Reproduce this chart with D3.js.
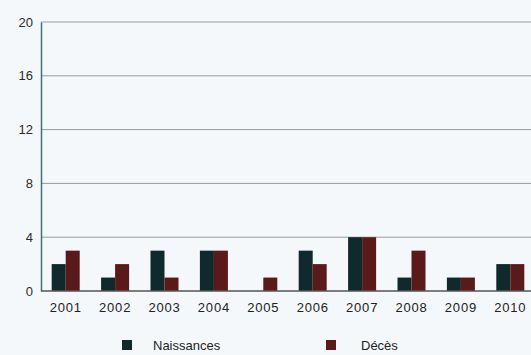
<!DOCTYPE html>
<html>
<head>
<meta charset="utf-8">
<script src="https://cdn.jsdelivr.net/npm/d3@7"></script>
<style>
  body { margin: 0; background: #f5f8fb; }
  svg { display: block; font-family: "Liberation Sans", Arial, sans-serif; }
</style>
</head>
<body>
<div id="chart"></div>
<script>
// data
const years = ["2001", "2002", "2003", "2004", "2005", "2006", "2007", "2008", "2009", "2010"] ;
const naissances = [2, 1, 3, 3, 0, 3, 4, 1, 1, 2] ;
const deces = [3, 2, 1, 3, 1, 2, 4, 3, 1, 2] ;
const series = ["Naissances", "Décès"] ;
const colors = ["#10292c", "#5b1a1a"] ;
const yTicks = [0, 4, 8, 12, 16, 20] ;

const rows = years.map((y, i) => ({year: y, values: [naissances[i], deces[i]]})) ;

let dimensions = {
  width: 531,
  height: 355,
  margin: {top: 22, right: 0, bottom: 64, left: 41},
}
dimensions.boundedWidth = dimensions.width - dimensions.margin.left - dimensions.margin.right
dimensions.boundedHeight = dimensions.height - dimensions.margin.top - dimensions.margin.bottom

const svg = d3.select("#chart").append("svg")
    .attr("width", dimensions.width)
    .attr("height", dimensions.height)
;
svg.append("rect")
    .attr("width", dimensions.width)
    .attr("height", dimensions.height)
    .attr("fill", "#f5f8fb")
;
const bounds = svg.append("g")
    .attr("transform", `translate(${dimensions.margin.left},${dimensions.margin.top})`)
;

const xScale = d3.scaleBand()
  .domain(years)
  .range([0, 494])
  .paddingInner(0.433)
  .paddingOuter(0.2165)
;
const xSub = d3.scaleBand()
  .domain(series)
  .range([0, xScale.bandwidth()])
;
const yScale = d3.scaleLinear()
  .domain([0, 20])
  .range([dimensions.boundedHeight, 0])
;

// gridlines
bounds.append("g")
  .selectAll("line")
  .data(yTicks.filter(d => d > 0))
  .enter().append("line")
    .attr("x1", 0)
    .attr("x2", dimensions.boundedWidth)
    .attr("y1", d => yScale(d))
    .attr("y2", d => yScale(d))
    .attr("stroke", "#959b9c")
    .attr("stroke-width", 1)
;

// bars
const groups = bounds.selectAll(".grp")
  .data(rows)
  .enter().append("g")
    .attr("class", "grp")
    .attr("transform", d => `translate(${xScale(d.year)},0)`)
;
groups.selectAll("rect")
  .data(d => d.values.map((v, i) => ({key: series[i], value: v, i: i})))
  .enter().append("rect")
    .attr("x", d => xSub(d.key))
    .attr("y", d => yScale(d.value))
    .attr("width", xSub.bandwidth())
    .attr("height", d => yScale(0) - yScale(d.value))
    .attr("fill", d => colors[d.i])
;

// y axis
const yAxis = bounds.append("g")
  .call(d3.axisLeft(yScale).tickValues(yTicks).tickSize(0).tickPadding(8))
;
yAxis.select(".domain").attr("stroke", "#3f6f76").attr("stroke-width", 1.5) ;
yAxis.selectAll("text")
  .attr("font-size", 13)
  .attr("fill", "#2a2a2a")
  .attr("font-family", "Liberation Sans, Arial, sans-serif")
;

// x axis
const xAxis = bounds.append("g")
  .attr("transform", `translate(0,${dimensions.boundedHeight})`)
  .call(d3.axisBottom(xScale).tickSize(0).tickPadding(12))
;
xAxis.select(".domain")
  .attr("d", `M0,0H${dimensions.boundedWidth}`)
  .attr("stroke", "#555")
  .attr("stroke-width", 1.5)
;
xAxis.selectAll("text")
  .attr("font-size", 13)
  .attr("letter-spacing", 0.8)
  .attr("fill", "#222")
  .attr("font-family", "Liberation Sans, Arial, sans-serif")
;

// legend
const legendX = [122, 326] ;
const legend = svg.append("g")
  .selectAll("g")
  .data(series)
  .enter().append("g")
    .attr("transform", (d, i) => `translate(${legendX[i]},340)`)
;
legend.append("rect")
  .attr("width", 10)
  .attr("height", 10)
  .attr("fill", (d, i) => colors[i])
;
legend.append("text")
  .attr("x", (d, i) => i == 0 ? 31 : 35)
  .attr("y", 10)
  .attr("font-size", 13)
  .attr("fill", "#222")
  .text(d => d)
;
</script>
</body>
</html>
